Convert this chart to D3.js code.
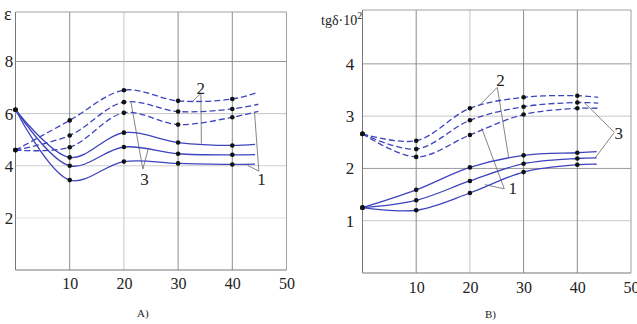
<!DOCTYPE html>
<html><head><meta charset="utf-8">
<script src="https://cdn.jsdelivr.net/npm/d3@7"></script>
<style>body{margin:0;background:#fff}svg{display:block}text{font-family:"Liberation Serif","Times New Roman",serif;fill:#222}</style>
</head><body>
<script>
// ---- data ----
const xTicks = [10, 20, 30, 40, 50];
const leftYTicks = [2, 4, 6, 8];
const rightYTicks = [1, 2, 3, 4];

const leftSolidX = [0, 10, 20, 30, 40, 44.2];
const leftSolid = [
  [6.15, 4.32, 5.27, 4.89, 4.78, 4.82],
  [6.15, 4.00, 4.72, 4.46, 4.42, 4.43],
  [6.15, 3.45, 4.16, 4.09, 4.05, 4.06]
];
const leftDashX = [0, 10, 20, 30, 40, 44.8];
const leftDashed = [
  [4.6, 5.74, 6.90, 6.49, 6.56, 6.82],
  [4.6, 5.16, 6.44, 6.08, 6.18, 6.36],
  [4.6, 4.71, 6.03, 5.58, 5.86, 6.09]
];

const rightSolidX = [0, 10, 20, 30, 40, 43.6];
const rightSolid = [
  [1.25, 1.59, 2.02, 2.25, 2.30, 2.32],
  [1.25, 1.39, 1.76, 2.09, 2.19, 2.20],
  [1.25, 1.20, 1.53, 1.93, 2.07, 2.08]
];
const rightDashX = [0, 10, 20, 30, 40, 43.9];
const rightDashed = [
  [2.66, 2.53, 3.15, 3.36, 3.39, 3.36],
  [2.66, 2.37, 2.92, 3.18, 3.26, 3.25],
  [2.66, 2.22, 2.64, 3.03, 3.15, 3.15]
];

// annotation labels: text, label point, leader apex, leader targets (data units)
const leftNotes = [
  {t: "2", at: [34.2, 7.0], apex: [34.2, 6.78], to: [[32.6, 6.45], [34.3, 4.85]]},
  {t: "3", at: [23.8, 3.5], apex: [23.5, 3.87], to: [[21.3, 6.44], [24.5, 4.66]]},
  {t: "1", at: [45.4, 3.5], apex: [44.9, 3.79], to: [[42.8, 4.02], [44.1, 6.05]]}
];
const rightNotes = [
  {t: "2", at: [25.7, 3.69], apex: [25.1, 3.55], to: [[21.9, 3.22], [27.2, 2.22]]},
  {t: "1", at: [28.0, 1.62], apex: [26.4, 1.61], to: [[22.8, 1.69], [22.2, 2.77]]},
  {t: "3", at: [47.7, 2.67], apex: [46.9, 2.69], to: [[41.4, 3.25], [43.3, 2.20]]}
];

const W = 637, H = 324;
const blue = "#3d44bd";
const serif = "Liberation Serif, Times New Roman, serif";
const svg = d3.select("body").append("svg").attr("width", W).attr("height", H);

function panel(opt) {
  const x = d3.scaleLinear().domain([0, 50]).range([opt.x0, opt.x1]);
  const y = d3.scaleLinear().domain([0, opt.ymax]).range([opt.y0, opt.y1]);
  const g = svg.append("g");
  // grid
  g.selectAll(".hg").data(opt.yTicks).join("line")
    .attr("x1", x(0)).attr("x2", x(50)).attr("y1", d => y(d)).attr("y2", d => y(d))
    .attr("stroke", (d, i) => opt.hCol[i]).attr("stroke-width", 1);
  g.selectAll(".vg").data(xTicks.slice(0, 4)).join("line")
    .attr("x1", d => x(d)).attr("x2", d => x(d)).attr("y1", y(0)).attr("y2", y(opt.ymax))
    .attr("stroke", d => d === 20 ? "#c4c4c4" : "#8c8c8c").attr("stroke-width", 1);
  // frame
  g.append("line").attr("x1", x(0)).attr("x2", x(50)).attr("y1", y(opt.ymax)).attr("y2", y(opt.ymax)).attr("stroke", "#a0a0a0");
  g.append("line").attr("x1", x(50)).attr("x2", x(50)).attr("y1", y(0)).attr("y2", y(opt.ymax)).attr("stroke", "#a0a0a0");
  g.append("line").attr("x1", x(0)).attr("x2", x(0)).attr("y1", y(0)).attr("y2", y(opt.ymax)).attr("stroke", "#777");
  g.append("line").attr("x1", x(0)).attr("x2", x(50)).attr("y1", y(0)).attr("y2", y(0)).attr("stroke", "#777");
  // axes tick labels via d3 axis
  const xa = g.append("g").attr("transform", `translate(0,${y(0)})`)
    .call(d3.axisBottom(x).tickValues(xTicks).tickFormat(d3.format("d")).tickSize(0).tickPadding(opt.xPad));
  xa.attr("font-family", serif).attr("font-size", 16);
  xa.select(".domain").remove();
  xa.selectAll("text").attr("fill", "#222");
  const ya = g.append("g").attr("transform", `translate(${opt.yLabX},0)`)
    .call(d3.axisLeft(y).tickValues(opt.yTicks).tickFormat(d3.format("d")).tickSize(0).tickPadding(0));
  ya.attr("font-family", serif).attr("font-size", 17);
  ya.select(".domain").remove();
  ya.selectAll("text").attr("fill", "#222").attr("text-anchor", "middle");

  const line = d3.line().curve(d3.curveCatmullRom.alpha(0.5)).x(d => x(d[0])).y(d => y(d[1]));
  // leaders
  opt.notes.forEach(n => {
    n.to.forEach(p => {
      g.append("line").attr("x1", x(n.apex[0])).attr("y1", y(n.apex[1]))
        .attr("x2", x(p[0])).attr("y2", y(p[1])).attr("stroke", "#777").attr("stroke-width", 0.9);
    });
    g.append("text").attr("x", x(n.at[0])).attr("y", y(n.at[1])).attr("dy", "0.35em")
      .attr("text-anchor", "middle").attr("font-size", 17).text(n.t);
  });
  // series
  const drawSet = (xs, sets, dash) => {
    sets.forEach(vals => {
      const pts = xs.map((xx, i) => [xx, vals[i]]);
      g.append("path").attr("d", line(pts)).attr("fill", "none").attr("stroke", blue)
        .attr("stroke-width", 1.3).attr("stroke-dasharray", dash);
      g.selectAll(null).data(pts.slice(0, 5)).join("circle")
        .attr("cx", d => x(d[0])).attr("cy", d => y(d[1])).attr("r", 2.3).attr("fill", "#111");
    });
  };
  drawSet(opt.dx, opt.dashed, "6,3");
  drawSet(opt.sx, opt.solid, null);
  return {x, y};
}

panel({x0: 15.5, x1: 286.5, y0: 270, y1: 12, ymax: 9.9, yTicks: leftYTicks,
  hCol: ["#e2e2e2", "#cfcfcf", "#c4c4c4", "#9a9a9a"],
  xPad: 8, yLabX: 9, notes: leftNotes,
  sx: leftSolidX, solid: leftSolid, dx: leftDashX, dashed: leftDashed});
panel({x0: 362.5, x1: 631, y0: 273, y1: 10, ymax: 5.03, yTicks: rightYTicks,
  hCol: ["#c8c8c8", "#9a9a9a", "#c8c8c8", "#9a9a9a"],
  xPad: 9, yLabX: 350, notes: rightNotes,
  sx: rightSolidX, solid: rightSolid, dx: rightDashX, dashed: rightDashed});

// axis titles
svg.append("text").attr("x", 4).attr("y", 20).attr("font-size", 18).text("ε");
const t = svg.append("text").attr("x", 321).attr("y", 25).attr("font-size", 14);
t.append("tspan").text("tgδ·10");
t.append("tspan").attr("dy", -6).attr("font-size", 10).text("2");
// captions
svg.append("text").attr("x", 137).attr("y", 317).attr("font-size", 11).text("A)");
svg.append("text").attr("x", 485).attr("y", 318).attr("font-size", 11).text("B)");
</script>
</body></html>
